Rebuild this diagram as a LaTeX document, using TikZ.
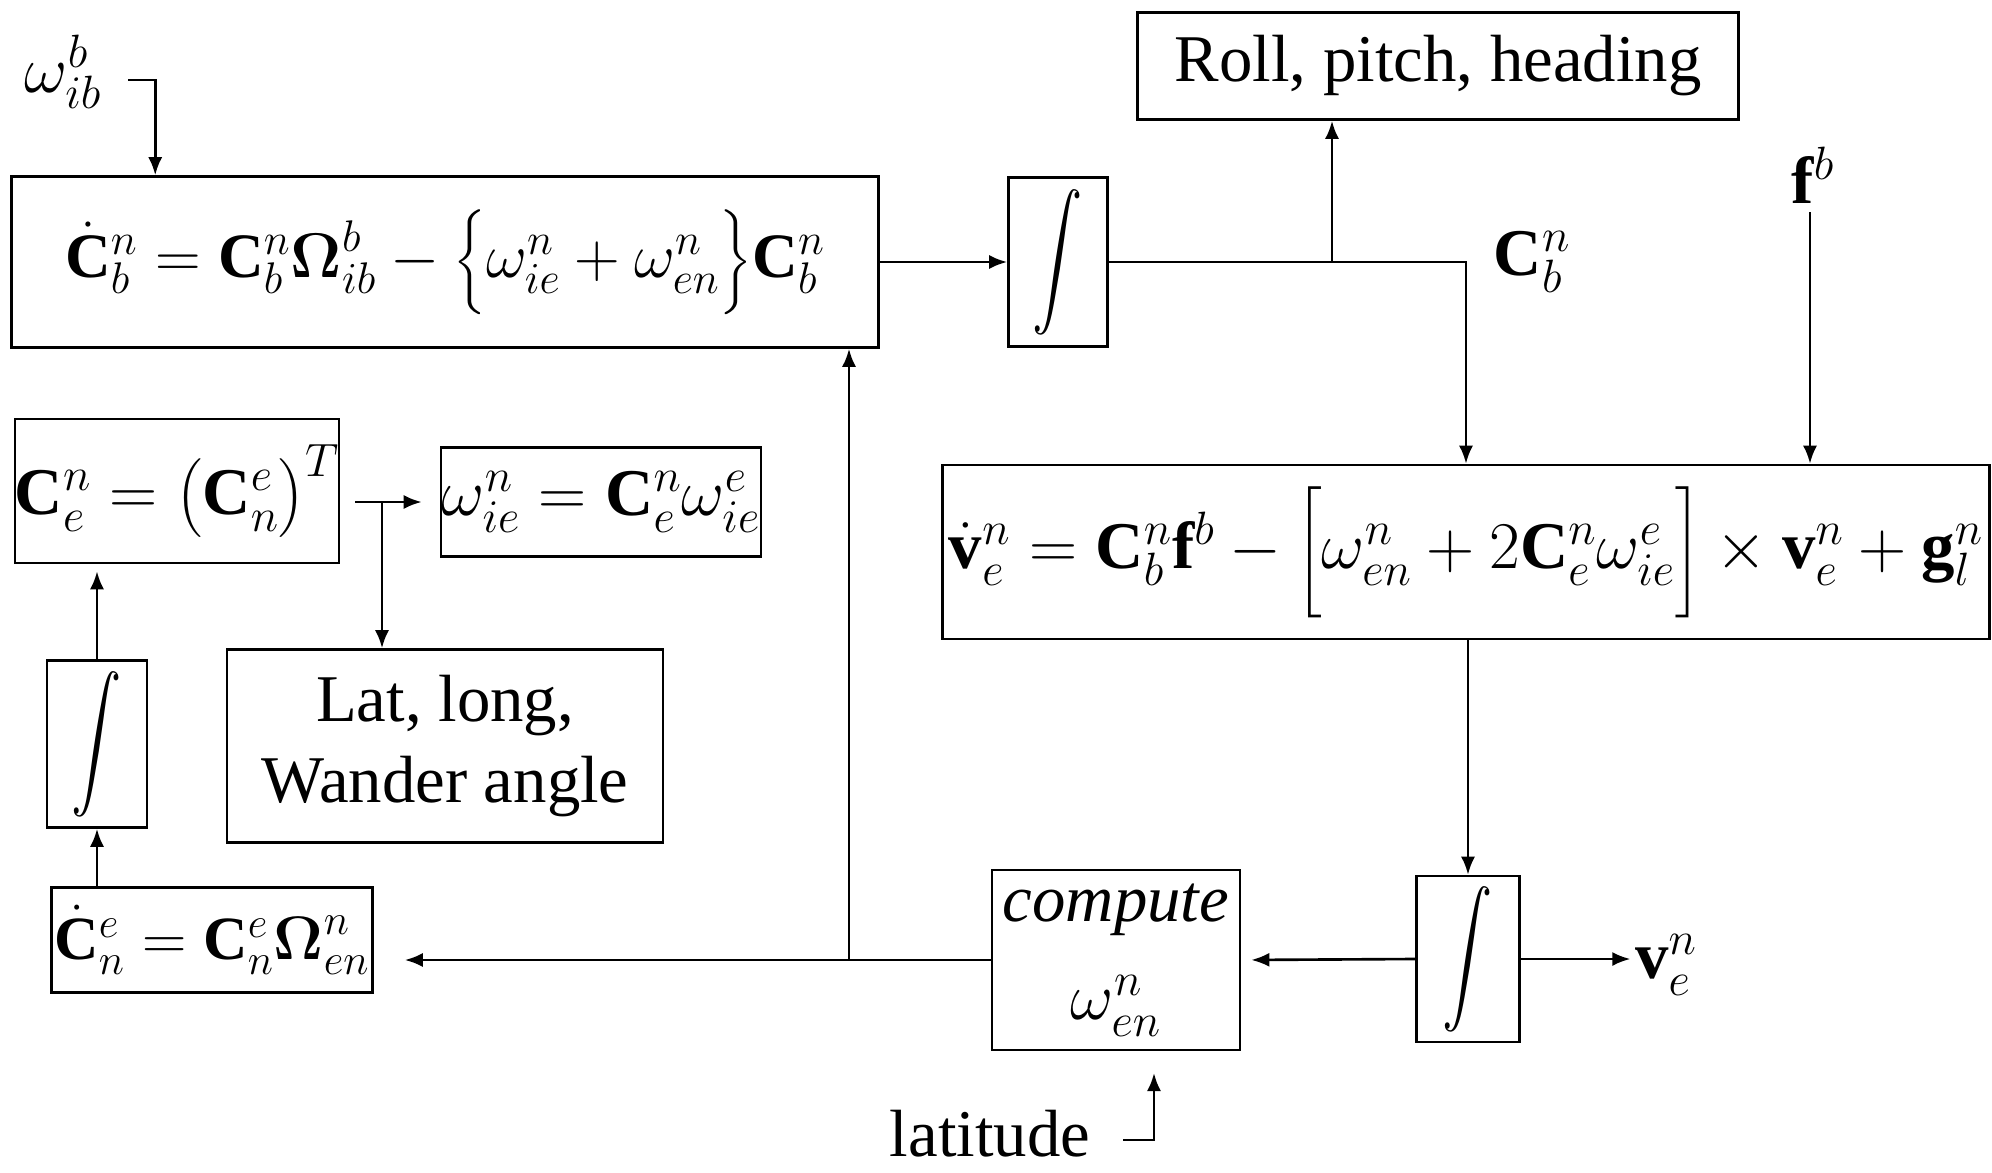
\documentclass[tikz,border=0pt]{standalone}
\usepackage{fix-cm}
\usepackage{amsmath}
\usepackage{fontspec}
\setmainfont{Liberation Serif}
\usetikzlibrary{arrows.meta}

\begin{document}
\begin{tikzpicture}[x=0.02cm,y=-0.02cm,line width=1.5pt,
    every node/.style={font=\fontsize{38}{46}\selectfont},
    blk/.style={draw,inner sep=0pt,align=center},
    lbl/.style={inner sep=2pt},
    intsym/.style={font=\fontsize{52}{60}\selectfont},
    arr/.style={-{Latex[length=0.36cm,width=0.28cm]}}]
      \useasboundingbox (0,0) rectangle (1992,1173);

      \node[blk,font=\fontsize{36}{44}\selectfont,minimum width=17.34cm,minimum height=3.42cm] (dcbn) at (445,262)
        {$\dot{\mathbf{C}}_b^n=\mathbf{C}_b^n\boldsymbol{\Omega}_{ib}^b-\Bigl\{\omega_{ie}^n+\omega_{en}^n\Bigr\}\mathbf{C}_b^n$};
      \node[blk,intsym,minimum width=1.98cm,minimum height=3.38cm] (intA) at (1058,262) {\scalebox{1.15}[1.5]{$\displaystyle\int$}};
      \node[blk,minimum width=12.02cm,minimum height=2.14cm] (rph) at (1438,66) {Roll, pitch, heading};
      \node[blk,minimum width=20.94cm,minimum height=3.48cm] (vdot) at (1466,552)
        {$\dot{\mathbf{v}}_e^n=\mathbf{C}_b^n\mathbf{f}^b-\Bigl[\omega_{en}^n+2\mathbf{C}_e^n\omega_{ie}^e\Bigr]\times\mathbf{v}_e^n+\mathbf{g}_l^n$};
      \node[blk,intsym,minimum width=2.06cm,minimum height=3.32cm] (intC) at (1468,959) {\scalebox{1.15}[1.5]{$\displaystyle\int$}};
      \node[blk,minimum width=4.96cm,minimum height=3.6cm] (comp) at (1116,960)
        {\textit{compute}\\[0.35cm]$\omega_{en}^n$};
      \node[blk,font=\fontsize{35}{42}\selectfont,minimum width=6.42cm,minimum height=2.1cm] (cndot) at (212,940)
        {$\dot{\mathbf{C}}_n^e=\mathbf{C}_n^e\boldsymbol{\Omega}_{en}^n$};
      \node[blk,intsym,minimum width=2cm,minimum height=3.34cm] (intB) at (97,744) {\scalebox{1.15}[1.5]{$\displaystyle\int$}};
      \node[blk,minimum width=6.34cm,minimum height=2.88cm] (cen) at (177,491)
        {$\mathbf{C}_e^n=\bigl(\mathbf{C}_n^e\bigr)^T$};
      \node[blk,minimum width=6.4cm,minimum height=2.18cm] (wie) at (601,502)
        {$\omega_{ie}^n=\mathbf{C}_e^n\omega_{ie}^e$};
      \node[blk,minimum width=8.72cm,minimum height=3.86cm] (lat) at (445,746)
        {Lat, long,\\Wander angle};

      \node[lbl] (wib) at (63,72) {$\omega_{ib}^b$};
      \node[lbl] (cbn) at (1532,262) {$\mathbf{C}_b^n$};
      \node[lbl] (fb) at (1813,175) {$\mathbf{f}^b$};
      \node[lbl] (ven) at (1666,965) {$\mathbf{v}_e^n$};
      \node[lbl] (latitude) at (990,1134) {latitude};

      \coordinate (wibout) at (128,80);
      \coordinate (split1) at (1332,262);
      \coordinate (fbtop) at (1810,212);
      \coordinate (split2) at (849,960);
      \coordinate (split3) at (382,502);
      \coordinate (latout) at (1123,1140);
      \coordinate (latin) at (1154,1073);

      \draw[arr] (wibout) -| ([xshift=2.9cm]dcbn.north west);
      \draw[arr] (dcbn.east) -- (intA.west);
      \draw[arr] (intA.east) -| (vdot.north);
      \draw[arr] (split1) -- (split1 |- rph.south);
      \draw[arr] (fbtop) -- (fbtop |- vdot.north);
      \draw[arr] (vdot.south -| intC.north) -- (intC.north);
      \draw[arr] (intC.east) -- (intC.east -| ven.west);
      \draw[arr,shorten >=0.2cm] (intC.west) -- (comp.east);
      \draw[arr,shorten >=0.62cm] (comp.west) -- (comp.west -| cndot.east);
      \draw[arr] (split2) -- (split2 |- dcbn.south);
      \draw[arr] (cndot.north -| intB.south) -- (intB.south);
      \draw[arr,shorten >=0.14cm] (intB.north) -- (intB.north |- cen.south);
      \draw[arr,shorten <=0.3cm,shorten >=0.36cm] (wie.west -| cen.east) -- (wie.west);
      \draw[arr] (split3) -- (split3 |- lat.north);
      \draw[arr] (latout) -| (latin);

    \end{tikzpicture}
\end{document}
